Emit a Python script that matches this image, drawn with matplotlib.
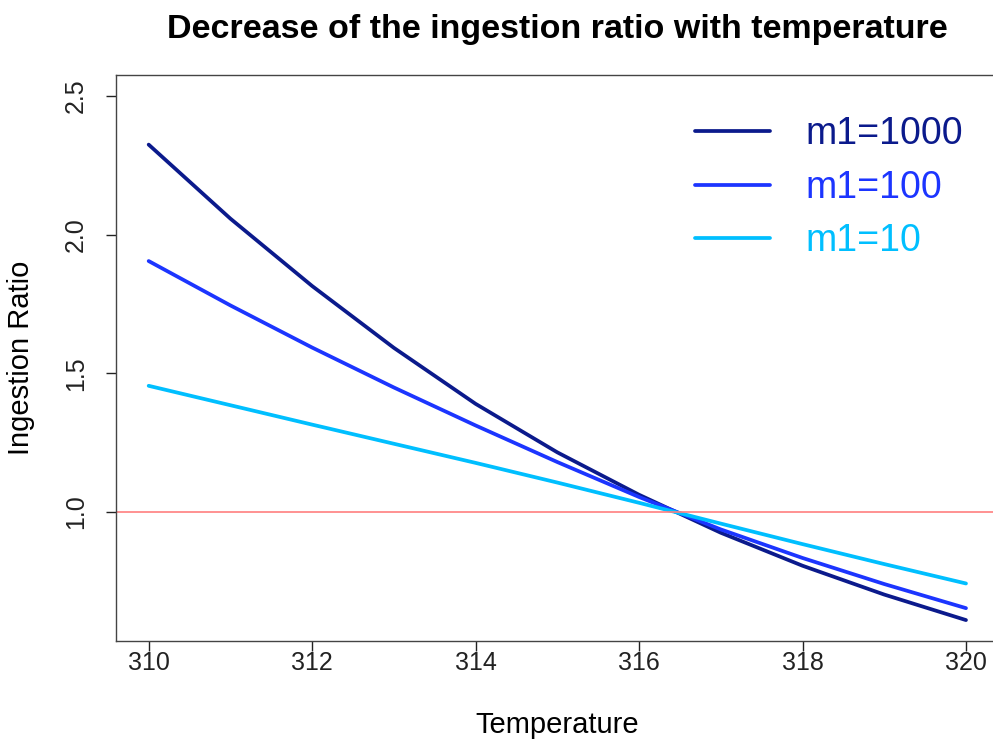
import matplotlib
matplotlib.use('Agg')
import matplotlib.pyplot as plt

plt.rcParams['font.family'] = ['Liberation Sans', 'DejaVu Sans']

# values at each integer temperature
temperature = [310, 311, 312, 313, 314, 315, 316, 317, 318, 319, 320]
ratio_m1000 = [2.325, 2.058, 1.815, 1.592, 1.390, 1.215, 1.062, 0.925, 0.806, 0.702, 0.610]
ratio_m100 = [1.905, 1.745, 1.593, 1.449, 1.312, 1.180, 1.054, 0.937, 0.834, 0.740, 0.653]
ratio_m10 = [1.455, 1.385, 1.315, 1.246, 1.177, 1.106, 1.033, 0.958, 0.884, 0.812, 0.742]

labels = ['m1=1000', 'm1=100', 'm1=10']
colors = ['#0b1a8c', '#1c35ff', '#00bfff']

x_ticks = [310, 312, 314, 316, 318, 320]
y_ticks = [1.0, 1.5, 2.0, 2.5]

fig = plt.figure(figsize=(9.93, 7.44), dpi=100)
ax = fig.add_axes([0.1168, 0.1384, 0.8889, 0.7606])

for vals, lab, col in zip([ratio_m1000, ratio_m100, ratio_m10], labels, colors):
    ax.plot(temperature, vals, color=col, linewidth=2.7, label=lab,
            solid_capstyle='round')

# reference line at ratio 1
ax.axhline(1.0, color='#ff7f7f', linewidth=1.2)

# R-style 4% padding
ax.set_xlim(310 - 0.4, 320 + 0.4)
ax.set_ylim(0.61 - 0.0756, 2.5 + 0.0756)

ax.set_xticks(x_ticks)
ax.set_xticklabels([str(t) for t in x_ticks])
ax.set_yticks(y_ticks)
ax.set_yticklabels([f'{t:.1f}' for t in y_ticks], rotation=90, va='center')
ax.tick_params(direction='out', length=7, width=1, labelsize=18,
               colors='#222222')
ax.tick_params(axis='x', pad=0)
ax.tick_params(axis='y', pad=13)

for sp in ax.spines.values():
    sp.set_color('#444444')
    sp.set_linewidth(1.0)

ax.set_xlabel('Temperature', fontsize=21, labelpad=26)
ax.set_ylabel('Ingestion Ratio', fontsize=21, labelpad=21)
ax.set_title('Decrease of the ingestion ratio with temperature',
             fontsize=24.5, fontweight='bold', pad=27)

leg = ax.legend(loc='upper left', bbox_to_anchor=(0.656, 0.927), frameon=False,
                fontsize=27, handlelength=2.0, handletextpad=0.95,
                labelspacing=0.46, borderpad=0, borderaxespad=0,
                labelcolor='linecolor')

fig.savefig('out.png', dpi=100)
